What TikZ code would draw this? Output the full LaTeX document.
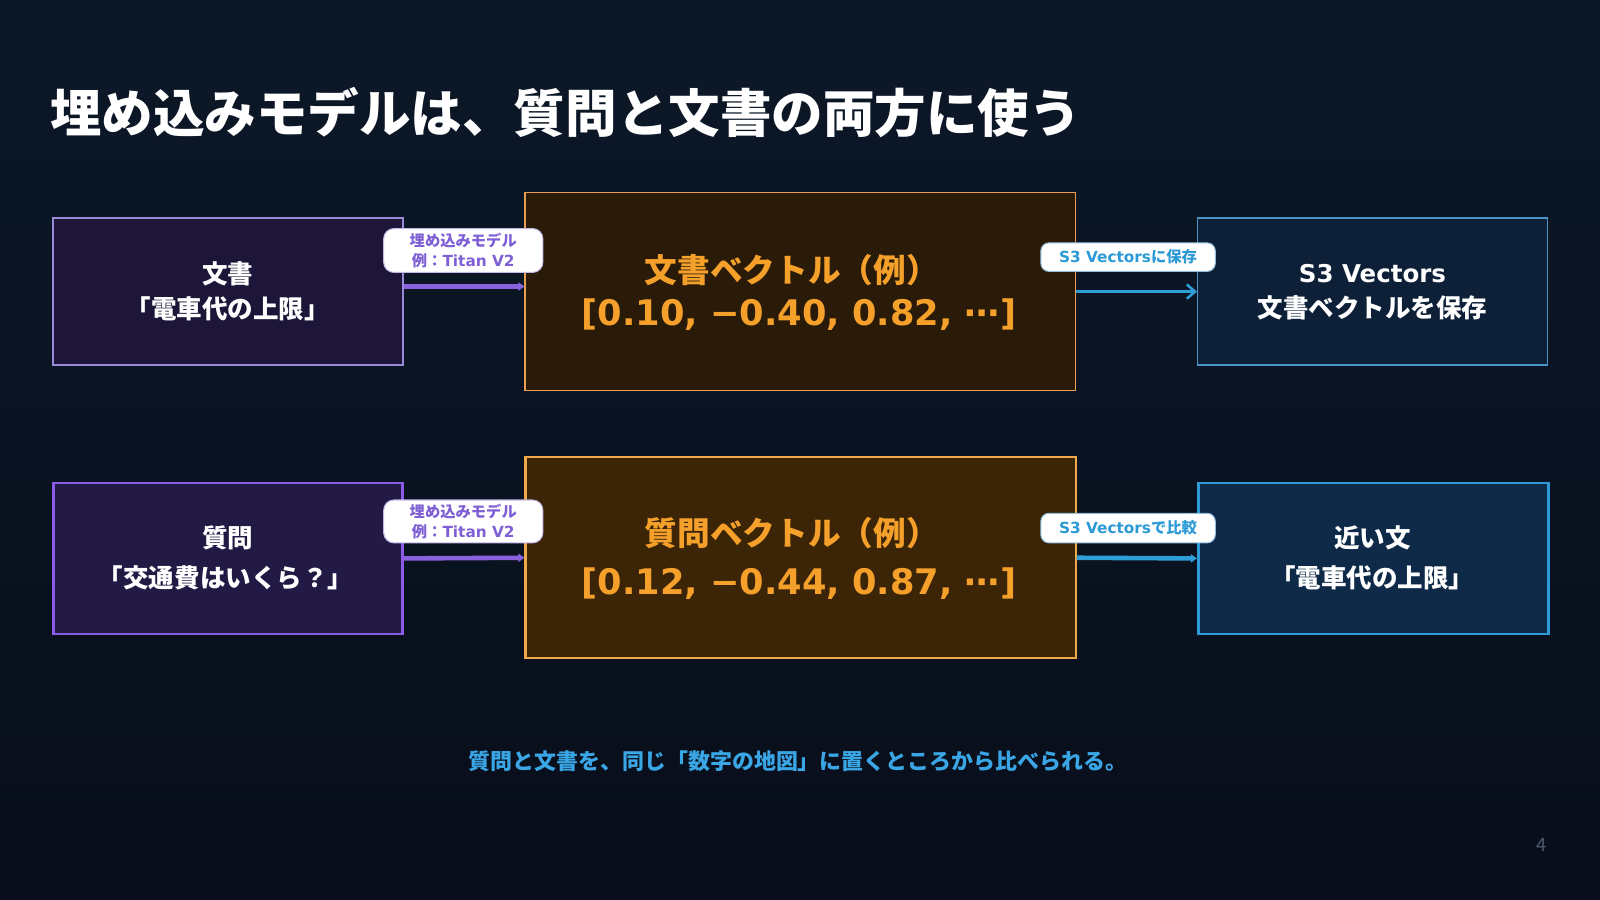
\documentclass[tikz,border=0pt]{standalone}
\usepackage{fontspec}
\setmainfont{Noto Sans CJK JP}
\newfontfamily\lat{DejaVu Sans}
\usetikzlibrary{arrows.meta}
\definecolor{bgtop}{HTML}{0C1828}
\definecolor{bgbot}{HTML}{080E1A}
\definecolor{purfillA}{HTML}{1D1638}
\definecolor{purdrawA}{HTML}{9A88D8}
\definecolor{purfillB}{HTML}{221A45}
\definecolor{purdrawB}{HTML}{8A5CE6}
\definecolor{orfillA}{HTML}{2A1B09}
\definecolor{ordrawA}{HTML}{E8A050}
\definecolor{orfillB}{HTML}{3C2406}
\definecolor{ordrawB}{HTML}{F0A848}
\definecolor{blfillA}{HTML}{0E2038}
\definecolor{bldrawA}{HTML}{4A94C8}
\definecolor{blfillB}{HTML}{0E2A48}
\definecolor{bldrawB}{HTML}{2E9AD8}
\definecolor{purtext}{HTML}{7E5FD6}
\definecolor{bltext}{HTML}{2B9AD6}
\definecolor{ortext}{HTML}{F5A02A}
\definecolor{captext}{HTML}{3AA6E6}
\definecolor{purarrow}{HTML}{8A62E0}
\definecolor{blarrow}{HTML}{2E9ED8}
\definecolor{pagenum}{HTML}{4E5A70}
\tikzset{
  boxbase/.style={rectangle, inner sep=0pt, anchor=north west},
  pill/.style={rectangle, rounded corners=10pt, fill=white, inner sep=0pt, align=center, font=\bfseries\fontsize{15}{20}\selectfont},
  whitetxt/.style={text=white, font=\bfseries\fontsize{25}{30}\selectfont, inner sep=0pt},
  oratxt/.style={text=ortext, font=\bfseries\fontsize{32}{38}\selectfont, inner sep=0pt},
  oranum/.style={text=ortext, font=\lat\bfseries\fontsize{34.5}{42}\selectfont, inner sep=0pt},
}
\begin{document}
\begin{tikzpicture}[x=1pt,y=-1pt]
\useasboundingbox (0,0) rectangle (1568,882);
\shade[top color=bgtop, bottom color=bgbot] (0,0) rectangle (1568,882);

% title
\node[anchor=west, text=white, font=\bfseries\fontsize{50.5}{56}\selectfont, inner sep=0pt] (title) at (49,110) {埋め込みモデルは、質問と文書の両方に使う};

% row 1 boxes
\node[boxbase, fill=purfillA, draw=purdrawA, line width=1.5pt, minimum width=343pt, minimum height=144pt] (doc) at (51,213) {};
\node[boxbase, fill=orfillA, draw=ordrawA, line width=1.5pt, minimum width=539pt, minimum height=194pt] (docvec) at (514,188) {};
\node[boxbase, fill=blfillA, draw=bldrawA, line width=1.5pt, minimum width=343pt, minimum height=144pt] (store) at (1173,213) {};

% row 2 boxes
\node[boxbase, fill=purfillB, draw=purdrawB, line width=2.5pt, minimum width=342pt, minimum height=148pt] (query) at (51,472) {};
\node[boxbase, fill=orfillB, draw=ordrawB, line width=2.2pt, minimum width=539pt, minimum height=197pt] (qvec) at (514,447) {};
\node[boxbase, fill=blfillB, draw=bldrawB, line width=2.5pt, minimum width=343pt, minimum height=148pt] (near) at (1173,472) {};

% texts row 1
\node[whitetxt] (docA) at (223,268) {文書};
\node[whitetxt] (docB) at (223,303) {「電車代の上限」};
\node[oratxt] (docvecA) at (776,265) {文書ベクトル（例）};
\node[oranum] (docvecB) at (783,308) {[0.10, −0.40, 0.82, ⋯]};
\node[whitetxt, font=\lat\bfseries\fontsize{24}{30}\selectfont] (storeA) at (1345,268) {S3 Vectors};
\node[whitetxt] (storeB) at (1345,302) {文書ベクトルを保存};

% texts row 2
\node[whitetxt] (queryA) at (223,527) {質問};
\node[whitetxt] (queryB) at (221,566) {「交通費はいくら？」};
\node[oratxt] (qvecA) at (776,522) {質問ベクトル（例）};
\node[oranum] (qvecB) at (783,572) {[0.12, −0.44, 0.87, ⋯]};
\node[whitetxt] (nearA) at (1345,527) {近い文};
\node[whitetxt] (nearB) at (1345,566) {「電車代の上限」};

% arrows
\draw[purarrow, line width=4.5pt, -{Triangle[length=6pt,width=8pt]}] ([yshift=5pt]doc.east) -- ([yshift=5pt]docvec.west);
\draw[blarrow, line width=3pt, -{Straight Barb[length=8pt,width=14pt,line width=2.5pt]}] (docvec.east) -- (store.west);
\draw[purarrow, line width=4.5pt, -{Triangle[length=6pt,width=8pt]}] (query.east) -- (qvec.west);
\draw[blarrow, line width=4.5pt, -{Triangle[length=6pt,width=8pt]}] (qvec.east) -- (near.west);

% pills
\node[pill, draw=purdrawA!60, line width=1pt, minimum width=156pt, minimum height=43pt, text=purtext] (pillA) at (454,245.5) {埋め込みモデル\\例：{\lat Titan V2}};
\node[pill, draw=purdrawA!60, line width=1pt, minimum width=156pt, minimum height=42pt, text=purtext] (pillB) at (454,511) {埋め込みモデル\\例：{\lat Titan V2}};
\node[pill, rounded corners=8pt, draw=bldrawA!60, line width=1pt, minimum width=171pt, minimum height=28pt, text=bltext] (pillC) at (1105.5,252) {{\lat S3 Vectors}に保存};
\node[pill, rounded corners=8pt, draw=bldrawA!60, line width=1pt, minimum width=171pt, minimum height=29pt, text=bltext] (pillD) at (1105.5,517.5) {{\lat S3 Vectors}で比較};

% caption
\node[text=captext, font=\bfseries\fontsize{21.5}{26}\selectfont, inner sep=0pt] (caption) at (782,746) {質問と文書を、同じ「数字の地図」に置くところから比べられる。};

% page number
\node[text=pagenum, font=\fontsize{18}{22}\selectfont, inner sep=0pt] (page) at (1511,828) {4};
\end{tikzpicture}
\end{document}
